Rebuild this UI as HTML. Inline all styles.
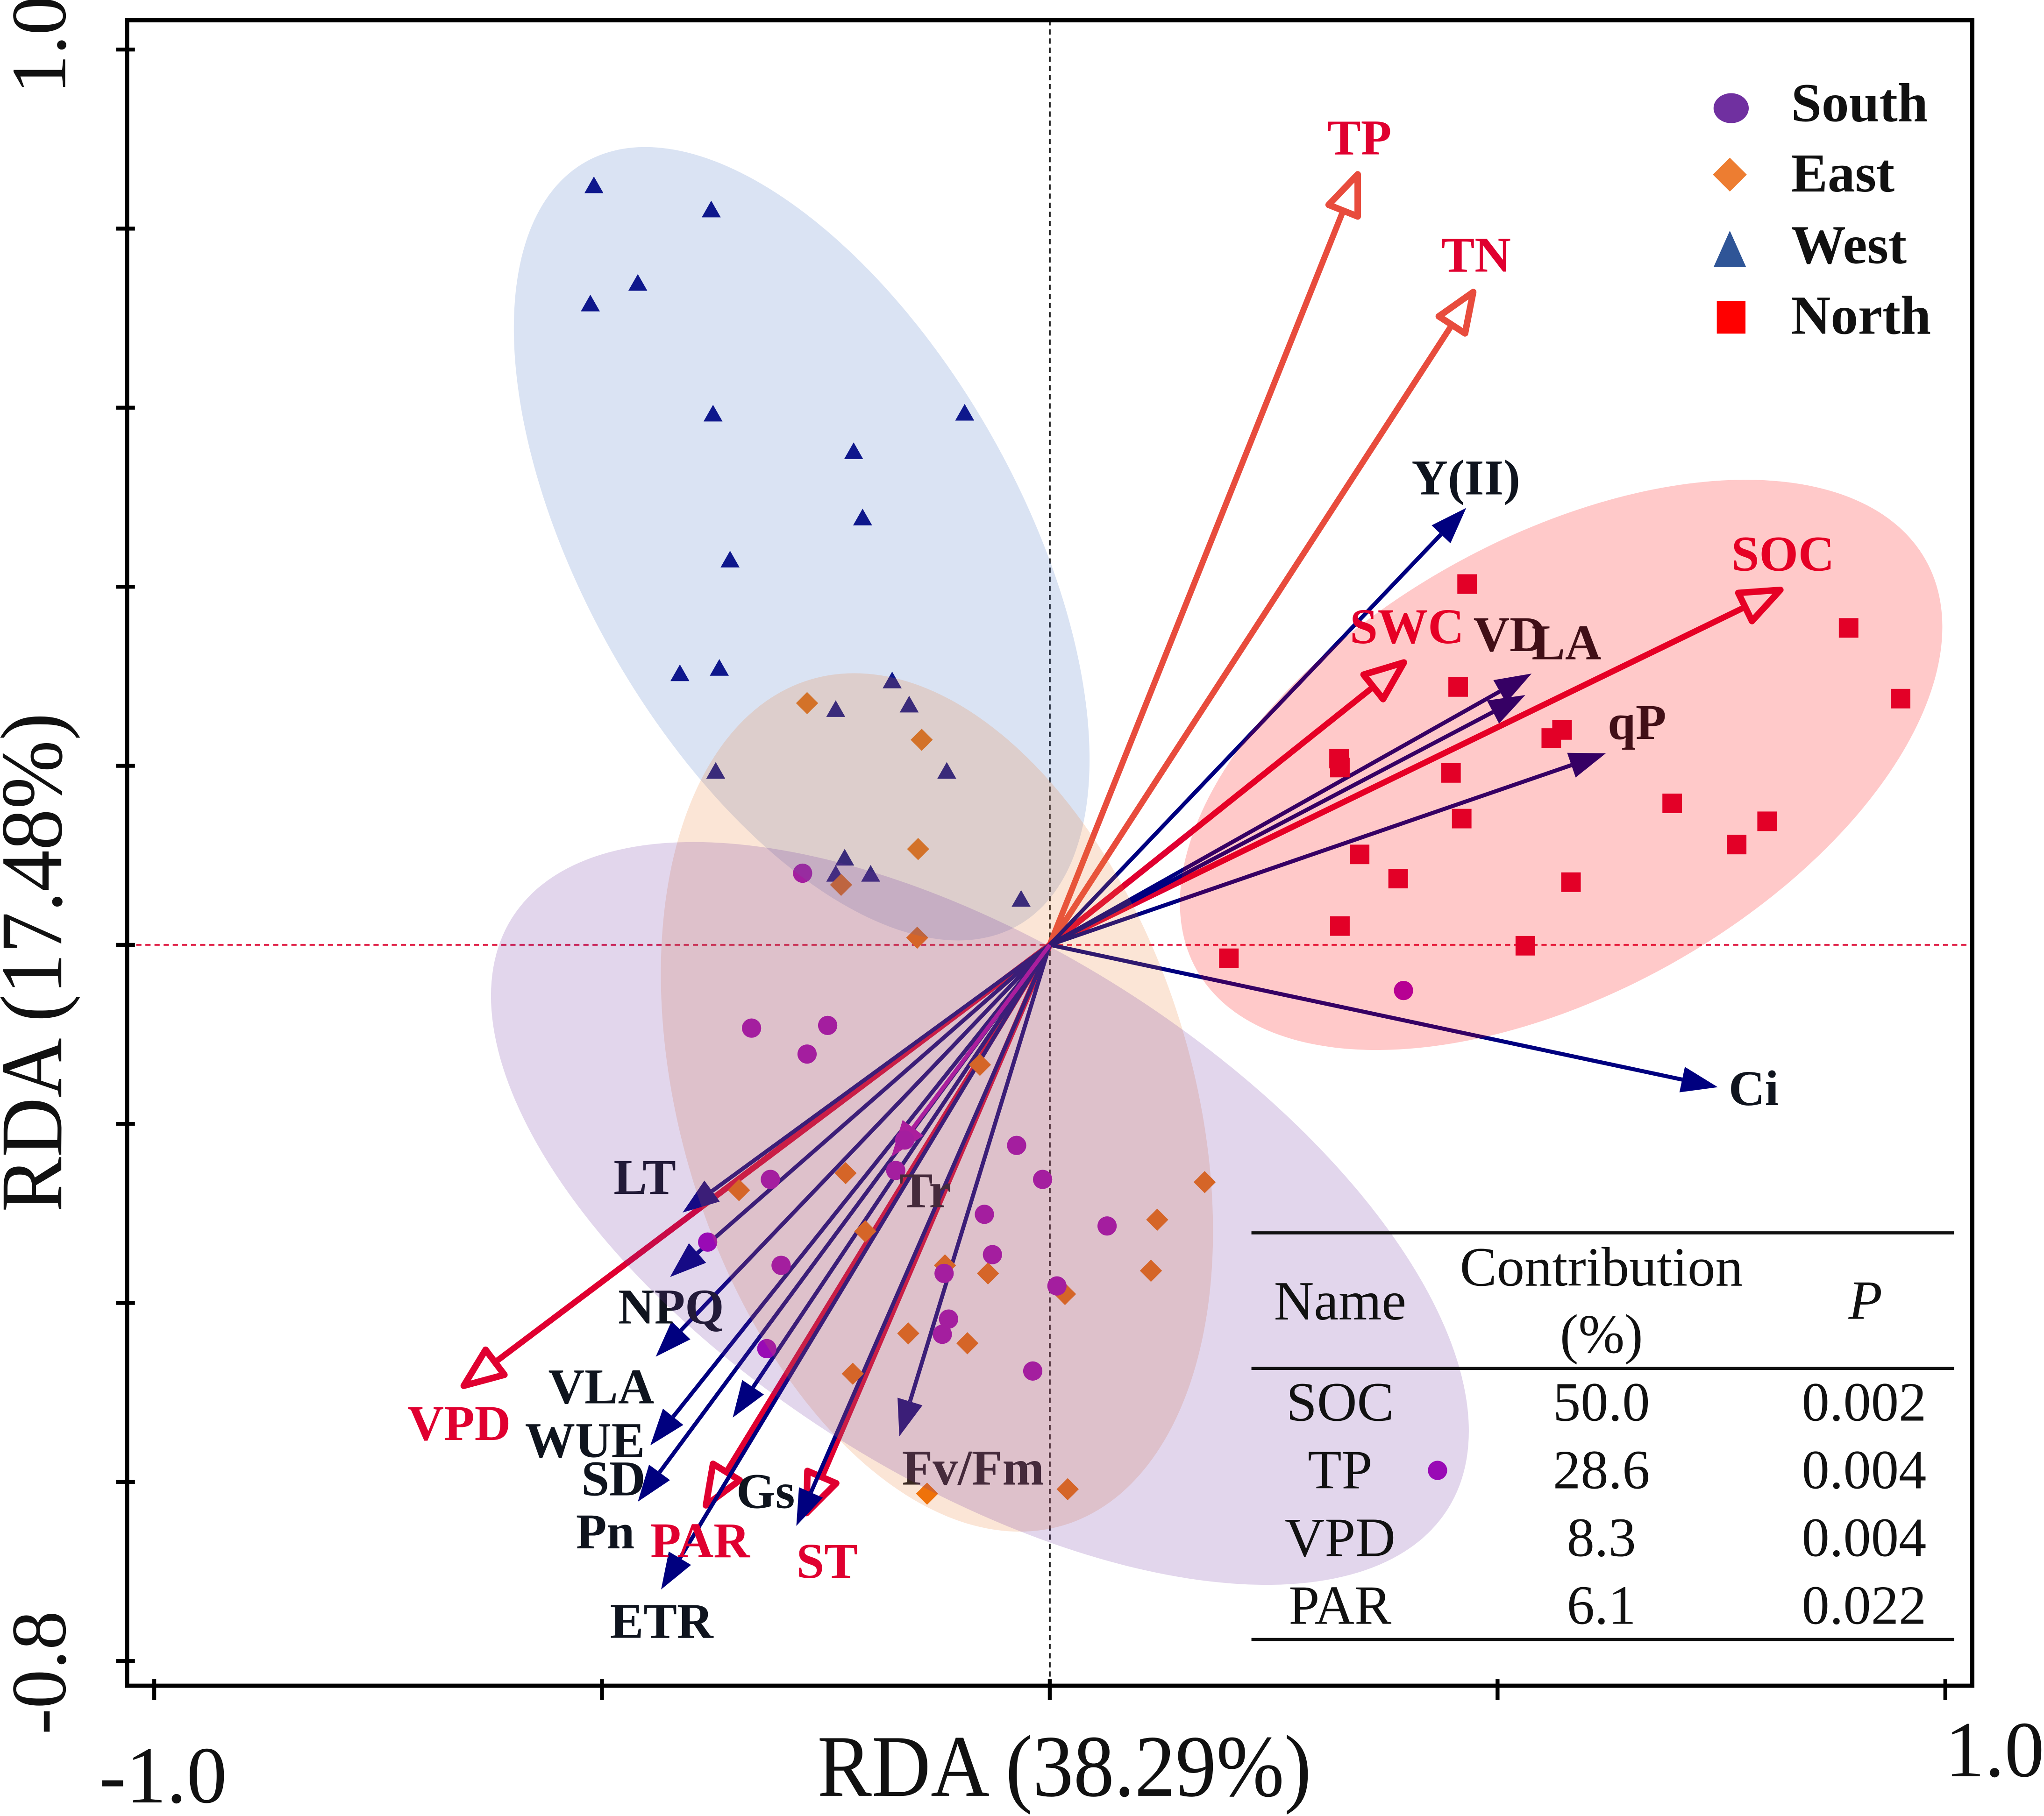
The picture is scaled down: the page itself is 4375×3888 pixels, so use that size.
<!DOCTYPE html>
<html lang="en">
<head>
<meta charset="utf-8">
<title>RDA biplot</title>
<style>
html,body{margin:0;padding:0;background:#fff;}
svg{display:block;font-family:"Liberation Serif",serif;}
.tbl{font-size:42.5px;text-anchor:middle;fill:#111;}
.leg{font-size:42px;font-weight:bold;fill:#111;}
.axt{font-size:67.5px;fill:#111;}
.tck{font-size:60px;fill:#111;}
</style>
</head>
<body>
<svg xmlns="http://www.w3.org/2000/svg" width="4375" height="3888" viewBox="0 0 1568 1393.46">
  <rect x="0" y="0" width="1568" height="1393.46" fill="#fff"/>
  <g id="zero-lines"></g>
  <g id="arrows"></g>
  <g id="points"></g>
  <g id="labels"></g>
  <g id="ellipses"></g>
  <g id="axes"></g>

  <text class="axt" x="627" y="1378" textLength="379" lengthAdjust="spacingAndGlyphs">RDA (38.29%)</text>
  <text class="axt" transform="translate(47 930) rotate(-90)" x="0" y="0" textLength="383" lengthAdjust="spacingAndGlyphs">RDA (17.48%)</text>

  <g>
    <ellipse cx="1328" cy="83" rx="13.5" ry="11.5" fill="#7030a0"/>
    <text class="leg" x="1374" y="93">South</text>
    <polygon points="1327,121 1340,134 1327,147 1314,134" fill="#ed7d31"/>
    <text class="leg" x="1374" y="147">East</text>
    <polygon points="1327,177 1339.5,205 1314.5,205" fill="#2f5597"/>
    <text class="leg" x="1374" y="202">West</text>
    <rect x="1317" y="231" width="22" height="25" fill="#ff0000"/>
    <text class="leg" x="1374" y="256">North</text>
  </g>

  <g>
    <line x1="960" x2="1499" y1="946" y2="946" stroke="#111" stroke-width="2.4"/>
    <line x1="960" x2="1499" y1="1050" y2="1050" stroke="#111" stroke-width="2.4"/>
    <line x1="960" x2="1499" y1="1258" y2="1258" stroke="#111" stroke-width="2.4"/>
    <text class="tbl" x="1028" y="1012.5">Name</text>
    <text class="tbl" x="1228.5" y="986.5">Contribution</text>
    <text class="tbl" x="1228.5" y="1038">(%)</text>
    <text class="tbl" x="1431" y="1012" font-style="italic">P</text>
    <text class="tbl" x="1028" y="1090">SOC</text>
    <text class="tbl" x="1228.5" y="1090">50.0</text>
    <text class="tbl" x="1430" y="1090">0.002</text>
    <text class="tbl" x="1028" y="1142">TP</text>
    <text class="tbl" x="1228.5" y="1142">28.6</text>
    <text class="tbl" x="1430" y="1142">0.004</text>
    <text class="tbl" x="1028" y="1194">VPD</text>
    <text class="tbl" x="1228.5" y="1194">8.3</text>
    <text class="tbl" x="1430" y="1194">0.004</text>
    <text class="tbl" x="1028" y="1246">PAR</text>
    <text class="tbl" x="1228.5" y="1246">6.1</text>
    <text class="tbl" x="1430" y="1246">0.022</text>
  </g>

<script>
// ---- data (RDA axis units) ----
const xTicks = [-1, -0.5, 0, 0.5, 1];
const yTicks = [1, 0.8, 0.6, 0.4, 0.2, 0, -0.2, -0.4, -0.6, -0.8];
const xTickLabels = ["-1.0", "1.0"];
const yTickLabels = ["1.0", "-0.8"];

const westX = [-0.509,-0.378,-0.460,-0.513,-0.376,-0.095,-0.219,-0.209,-0.357,-0.413,-0.369,-0.176,-0.157,-0.239,-0.373,-0.115,-0.229,-0.239,-0.200,-0.032];
const westY = [0.848,0.821,0.739,0.716,0.593,0.594,0.551,0.477,0.430,0.303,0.309,0.295,0.268,0.263,0.194,0.194,0.097,0.079,0.079,0.051];

const eastX = [-0.271,-0.143,-0.147,-0.233,-0.148,-0.078,-0.347,-0.228,-0.206,0.173,0.120,0.113,-0.117,-0.069,0.017,-0.158,-0.092,-0.220,-0.137,0.020];
const eastY = [0.270,0.229,0.107,0.067,0.008,-0.134,-0.274,-0.255,-0.320,-0.265,-0.307,-0.364,-0.358,-0.367,-0.390,-0.434,-0.445,-0.479,-0.613,-0.608];

const southX = [-0.276,-0.333,-0.248,-0.271,-0.312,-0.382,-0.300,-0.316,-0.162,-0.172,-0.037,-0.008,-0.073,-0.064,0.064,-0.118,0.008,-0.113,-0.120,-0.019,0.395,0.433];
const southY = [0.080,-0.093,-0.090,-0.122,-0.262,-0.332,-0.358,-0.451,-0.218,-0.252,-0.224,-0.262,-0.301,-0.346,-0.314,-0.367,-0.381,-0.418,-0.435,-0.476,-0.051,-0.587];

const northX = [0.466,0.456,0.572,0.560,0.323,0.324,0.448,0.460,0.346,0.389,0.582,0.695,0.892,0.950,0.801,0.767,0.324,0.531,0.200];
const northY = [0.403,0.288,0.240,0.231,0.208,0.198,0.192,0.141,0.101,0.074,0.070,0.158,0.354,0.275,0.138,0.112,0.021,-0.001,-0.015];

const envNames = ["SOC","TP","TN","SWC","VPD","PAR","ST"];
const envX = [0.821,0.346,0.476,0.400,-0.659,-0.387,-0.274];
const envY = [0.399,0.866,0.734,0.319,-0.496,-0.631,-0.640];
const envLabelX = [0.761,0.310,0.437,0.335,-0.717,-0.446,-0.283];
const envLabelY = [0.418,0.883,0.752,0.337,-0.553,-0.684,-0.707];

const respNames = ["Y(II)","VD","LA","qP","Ci","LT","NPQ","VLA","WUE","SD","Pn","ETR","Gs","Fv/Fm","Tr"];
const respX = [0.465,0.538,0.531,0.621,0.746,-0.410,-0.424,-0.440,-0.446,-0.460,-0.354,-0.434,-0.283,-0.168,-0.177];
const respY = [0.488,0.303,0.279,0.214,-0.159,-0.299,-0.371,-0.460,-0.559,-0.622,-0.528,-0.720,-0.649,-0.549,-0.237];
const respLabelX = [0.404,0.473,0.538,0.623,0.758,-0.487,-0.482,-0.560,-0.586,-0.523,-0.529,-0.491,-0.350,-0.165,-0.168];
const respLabelY = [0.503,0.328,0.319,0.230,-0.179,-0.278,-0.423,-0.512,-0.572,-0.615,-0.674,-0.774,-0.629,-0.603,-0.293];

const ellipseNames = ["west","east","south","north"];
const ellipseCx = [-0.277,-0.126,-0.078,0.571];
const ellipseCy = [0.448,-0.176,-0.300,0.201];
const ellipseA = [0.490,0.493,0.618,0.467];
const ellipseB = [0.244,0.286,0.297,0.254];
const ellipseTilt = [60.5,73.35,32.3,-29.35];

// ---- axis functions ----
const unitPx = 687;
const x0 = 805.3, y0 = 725;
const sx = v => x0 + v * unitPx;
const sy = v => y0 - v * unitPx;
const frame = {l: 97.5, t: 15.5, r: 1513, b: 1293.5};

const NS = "http://www.w3.org/2000/svg";
function mk(tag, attrs, parent) {
  const el = document.createElementNS(NS, tag);
  for (const k in attrs) el.setAttribute(k, attrs[k]);
  parent.appendChild(el);
  return el;
}
const slug = s => s.toLowerCase().replace(/[^a-z0-9]+/g, '-').replace(/^-|-$/g, '');

// zero lines
const zl = document.getElementById('zero-lines');
const vz = mk('line', {x1: sx(0), x2: sx(0), y1: frame.t, y2: frame.b, stroke: '#222', 'stroke-width': 1.4, 'stroke-dasharray': '4 3'}, zl);


const hz = mk('line', {x1: frame.l, x2: frame.r, y1: sy(0), y2: sy(0), stroke: '#e0244a', 'stroke-width': 1.4, 'stroke-dasharray': '4 3'}, zl);



// arrows
const arrowsG = document.getElementById('arrows');
function drawEnvArrow(i) {
  const tx = sx(envX[i]), ty = sy(envY[i]);
  const d = Math.hypot(tx - x0, ty - y0), ux = (tx - x0) / d, uy = (ty - y0) / d;
  const col = (envNames[i] === 'TP' || envNames[i] === 'TN') ? '#e84c3d' : '#e00030';
  const ax = tx - ux * 4, ay = ty - uy * 4;
  const bx = ax - ux * 30, by = ay - uy * 30;
  const g = mk('g', {}, arrowsG);
  
  
  mk('line', {x1: x0, y1: y0, x2: bx, y2: by, stroke: col, 'stroke-width': 4.6}, g);
  const pts = [[ax, ay], [bx - uy * 12, by + ux * 12], [bx + uy * 12, by - ux * 12]].map(p => p[0] + ',' + p[1]).join(' ');
  mk('polygon', {points: pts, fill: '#fff', stroke: col, 'stroke-width': 5, 'stroke-linejoin': 'round'}, g);
}
function drawRespArrow(i) {
  const tx = sx(respX[i]), ty = sy(respY[i]);
  const d = Math.hypot(tx - x0, ty - y0), ux = (tx - x0) / d, uy = (ty - y0) / d;
  const col = respNames[i] === 'Tr' ? '#b000b8' : '#00007f';
  const bx = tx - ux * 28, by = ty - uy * 28;
  const g = mk('g', {}, arrowsG);
  
  
  mk('line', {x1: x0, y1: y0, x2: bx, y2: by, stroke: col, 'stroke-width': 3.1}, g);
  const pts = [[tx, ty], [bx - uy * 10, by + ux * 10], [bx + uy * 10, by - ux * 10]].map(p => p[0] + ',' + p[1]).join(' ');
  mk('polygon', {points: pts, fill: col}, g);
}
envNames.forEach((n, i) => drawEnvArrow(i));
respNames.forEach((n, i) => drawRespArrow(i));

// points
const ptsG = document.getElementById('points');
westX.forEach((v, i) => {
  const x = sx(v), y = sy(westY[i]);
  const el = mk('polygon', {points: `${x},${y - 7} ${x + 7.3},${y + 5.8} ${x - 7.3},${y + 5.8}`, fill: '#00007f'}, ptsG);
  
  
});
eastX.forEach((v, i) => {
  const x = sx(v), y = sy(eastY[i]);
  const el = mk('polygon', {points: `${x},${y - 8.5} ${x + 8.5},${y} ${x},${y + 8.5} ${x - 8.5},${y}`, fill: '#f07000'}, ptsG);
  
  
});
southX.forEach((v, i) => {
  const el = mk('circle', {cx: sx(v), cy: sy(southY[i]), r: 7.4, fill: '#a400bb'}, ptsG);
  
  
});
northX.forEach((v, i) => {
  const x = sx(v), y = sy(northY[i]);
  const el = mk('rect', {x: x - 7.5, y: y - 7.5, width: 15, height: 15, fill: '#dc0032'}, ptsG);
  
  
});

// labels
const labG = document.getElementById('labels');
function addLabel(name, lx, ly, col) {
  const t = mk('text', {x: sx(lx), y: sy(ly), 'font-size': 38.5, 'font-weight': 'bold', fill: col}, labG);
  t.textContent = name;
  
  
}
envNames.forEach((n, i) => addLabel(n, envLabelX[i], envLabelY[i], '#e00030'));
respNames.forEach((n, i) => addLabel(n, respLabelX[i], respLabelY[i], '#0f141e'));

// ellipses drawn over everything in the plot, tinting marks underneath
const elG = document.getElementById('ellipses');
const ellipseFill = ['rgba(68,114,196,.2)', 'rgba(237,125,49,.2)', 'rgba(112,48,160,.2)', 'rgba(255,0,0,.21)'];
ellipseNames.forEach((n, i) => {
  const cx = sx(ellipseCx[i]), cy = sy(ellipseCy[i]);
  const e = mk('ellipse', {cx: cx, cy: cy, rx: ellipseA[i] * unitPx, ry: ellipseB[i] * unitPx, fill: ellipseFill[i], transform: `rotate(${ellipseTilt[i]} ${cx} ${cy})`}, elG);
  
  
});

// axes
const axG = document.getElementById('axes');
const fr = mk('rect', {x: frame.l, y: frame.t, width: frame.r - frame.l, height: frame.b - frame.t, fill: 'none', stroke: '#000', 'stroke-width': 3.2}, axG);


xTicks.forEach(v => {
  const t = mk('line', {x1: sx(v), x2: sx(v), y1: frame.b - 5, y2: frame.b + 11, stroke: '#000', 'stroke-width': 3}, axG);
  
  
});
yTicks.forEach(v => {
  const t = mk('line', {x1: frame.l - 8.5, x2: frame.l + 6, y1: sy(v), y2: sy(v), stroke: '#000', 'stroke-width': 3}, axG);
  
  
});
const xl0 = mk('text', {class: 'tck', x: 76, y: 1383, style: 'font-size:62px'}, axG);
xl0.textContent = xTickLabels[0];


const xl1 = mk('text', {class: 'tck', x: 1492, y: 1363, style: 'font-size:61px'}, axG);
xl1.textContent = xTickLabels[1];


const yl0 = mk('text', {class: 'tck', transform: 'translate(50 72) rotate(-90)'}, axG);
yl0.textContent = yTickLabels[0];


const yl1 = mk('text', {class: 'tck', transform: 'translate(50 1331) rotate(-90)'}, axG);
yl1.textContent = yTickLabels[1];


</script>
</svg>
</body>
</html>
